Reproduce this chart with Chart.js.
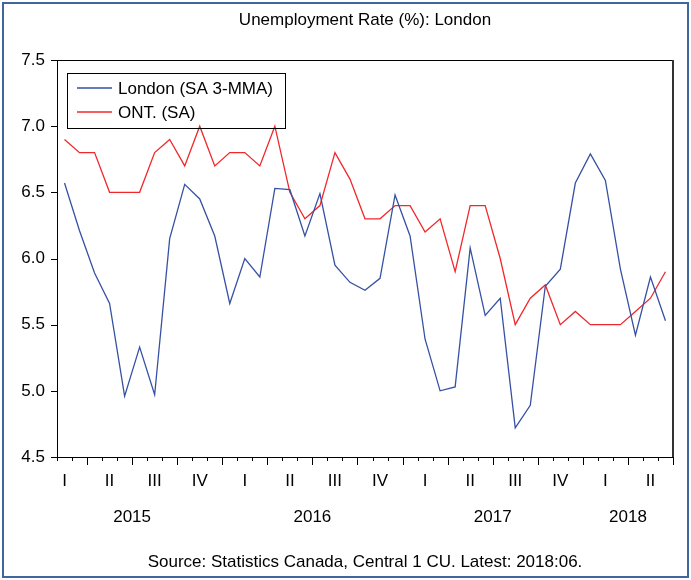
<!DOCTYPE html>
<html>
<head>
<meta charset="utf-8">
<script src="https://cdn.jsdelivr.net/npm/chart.js@4/dist/chart.umd.min.js"></script>
<style>
  body { margin: 0; background: #fff; }
  #wrap { width: 691px; height: 580px; }
</style>
</head>
<body>
<div id="wrap"><canvas id="chart" width="691" height="580"></canvas></div>
<script>
// monthly, Feb 2015 .. Jun 2018
const months = [
  '2015:02', '2015:03', '2015:04', '2015:05', '2015:06', '2015:07', '2015:08', '2015:09', '2015:10', '2015:11', '2015:12',
  '2016:01', '2016:02', '2016:03', '2016:04', '2016:05', '2016:06', '2016:07', '2016:08', '2016:09', '2016:10', '2016:11', '2016:12',
  '2017:01', '2017:02', '2017:03', '2017:04', '2017:05', '2017:06', '2017:07', '2017:08', '2017:09', '2017:10', '2017:11', '2017:12',
  '2018:01', '2018:02', '2018:03', '2018:04', '2018:05', '2018:06'
];
const london = [
  6.57, 6.21, 5.89, 5.66, 4.96, 5.33, 4.97, 6.15, 6.56, 6.45, 6.17,
  5.66, 6.00, 5.86, 6.53, 6.52, 6.17, 6.49, 5.95, 5.82, 5.76, 5.85, 6.48,
  6.17, 5.39, 5.00, 5.03, 6.08, 5.57, 5.70, 4.72, 4.89, 5.79, 5.92, 6.57,
  6.79, 6.59, 5.92, 5.42, 5.86, 5.53
];
const ontario = [
  6.9, 6.8, 6.8, 6.5, 6.5, 6.5, 6.8, 6.9, 6.7, 7.0, 6.7,
  6.8, 6.8, 6.7, 7.0, 6.5, 6.3, 6.4, 6.8, 6.6, 6.3, 6.3, 6.4,
  6.4, 6.2, 6.3, 5.9, 6.4, 6.4, 6.0, 5.5, 5.7, 5.8, 5.5, 5.6,
  5.5, 5.5, 5.5, 5.6, 5.7, 5.9
];
const quarterNames = ['I', 'II', 'III', 'IV'];
const years = ['2015', '2016', '2017', '2018'];
const seriesNames = ['London (SA 3-MMA)', 'ONT. (SA)'];
const seriesColors = ['#3651a3', '#f0282c'];

const FONT = '"Liberation Sans", Arial, sans-serif';

const decor = {
  id: 'decor',
  beforeDraw(chart) {
    const ctx = chart.ctx;
    ctx.save();
    ctx.fillStyle = '#fff';
    ctx.fillRect(0, 0, chart.width, chart.height);
    ctx.restore();
  },
  afterDraw(chart) {
    const ctx = chart.ctx;
    const a = chart.chartArea;
    const xs = chart.scales.x;
    const ys = chart.scales.y;
    ctx.save();

    // plot box
    ctx.strokeStyle = '#000';
    ctx.lineWidth = 1;
    ctx.strokeRect(a.left + 0.5, a.top + 0.5, a.right - a.left - 1, a.bottom - a.top);
    ctx.lineWidth = 2;
    ctx.strokeStyle = '#333';
    ctx.beginPath();
    ctx.moveTo(a.right, a.top);
    ctx.lineTo(a.right, a.bottom);
    ctx.stroke();

    // y ticks
    ctx.strokeStyle = '#000';
    ctx.lineWidth = 1;
    ys.ticks.forEach(t => {
      const y = Math.round(ys.getPixelForValue(t.value)) + 0.5;
      ctx.beginPath();
      ctx.moveTo(a.left - 6, y);
      ctx.lineTo(a.left, y);
      ctx.stroke();
    });

    // x ticks at month boundaries, long ones at quarter boundaries
    for (let k = 0; k <= months.length; k++) {
      const m = k < months.length ? +months[k].slice(5) : (+months[k - 1].slice(5)) % 12 + 1;
      const x = Math.round(xs.getPixelForValue(k - 0.5)) + 0.5;
      const len = (m - 1) % 3 === 0 ? 8 : 4;
      ctx.beginPath();
      ctx.moveTo(x, a.bottom);
      ctx.lineTo(x, a.bottom + len);
      ctx.stroke();
    }

    // year labels
    ctx.fillStyle = '#000';
    ctx.font = '17px ' + FONT;
    ctx.textAlign = 'center';
    ctx.textBaseline = 'middle';
    years.forEach(yr => {
      const first = months.findIndex(s => s.startsWith(yr));
      const jan = first - (+months[first].slice(5) - 1);
      const dec = jan + 11;
      const last = months.length - 1;
      const mid = dec > last ? (jan + last) / 2 : (jan + dec) / 2;
      ctx.fillText(yr, xs.getPixelForValue(mid), 517);
    });

    // title and source
    const cx = (a.left + a.right) / 2;
    ctx.font = '17px ' + FONT;
    ctx.fillText('Unemployment Rate (%): London', cx, 20);
    ctx.fillText('Source: Statistics Canada, Central 1 CU. Latest: 2018:06.', cx, 562);

    // legend box inside plot
    const lx = a.left + 10, ly = a.top + 13;
    ctx.lineWidth = 1;
    ctx.strokeStyle = '#000';
    ctx.strokeRect(Math.round(lx) + 0.5, Math.round(ly) + 0.5, 218, 55);
    ctx.textAlign = 'left';
    ctx.font = '17px ' + FONT;
    seriesNames.forEach((name, i) => {
      const y = ly + 15 + i * 24;
      ctx.strokeStyle = seriesColors[i];
      ctx.lineWidth = 1.3;
      ctx.beginPath();
      ctx.moveTo(lx + 10, y);
      ctx.lineTo(lx + 45, y);
      ctx.stroke();
      ctx.fillText(name, lx + 51, y + 1);
    });

    // outer frame
    ctx.strokeStyle = '#41669e';
    ctx.lineWidth = 2;
    ctx.strokeRect(3, 3, chart.width - 6, chart.height - 6);
    ctx.restore();
  }
};

new Chart(document.getElementById('chart'), {
  type: 'line',
  data: {
    labels: months,
    datasets: [
      { label: seriesNames[0], data: london, borderColor: seriesColors[0], borderWidth: 1.3, pointRadius: 0, tension: 0 },
      { label: seriesNames[1], data: ontario, borderColor: seriesColors[1], borderWidth: 1.3, pointRadius: 0, tension: 0 }
    ]
  },
  options: {
    responsive: false,
    animation: false,
    devicePixelRatio: 1,
    layout: { padding: { top: 60, right: 18, left: 0, bottom: 0 } },
    plugins: { legend: { display: false }, title: { display: false }, tooltip: { enabled: false } },
    scales: {
      x: {
        offset: true,
        grid: { display: false, drawTicks: false },
        border: { display: false },
        ticks: {
          autoSkip: false,
          maxRotation: 0,
          padding: 14,
          color: '#000',
          font: { family: FONT, size: 17 },
          callback: (v, i) => {
            const m = +months[i].slice(5);
            return m % 3 === 2 ? quarterNames[(m - 2) / 3] : '';
          }
        },
        afterFit: s => { s.height = 123; }
      },
      y: {
        min: 4.5,
        max: 7.5,
        grid: { display: false, drawTicks: false },
        border: { display: false },
        ticks: {
          stepSize: 0.5,
          padding: 12,
          color: '#000',
          font: { family: FONT, size: 17 },
          callback: v => v.toFixed(1)
        },
        afterFit: s => { s.width = 57; }
      }
    }
  },
  plugins: [decor]
});
</script>
</body>
</html>
